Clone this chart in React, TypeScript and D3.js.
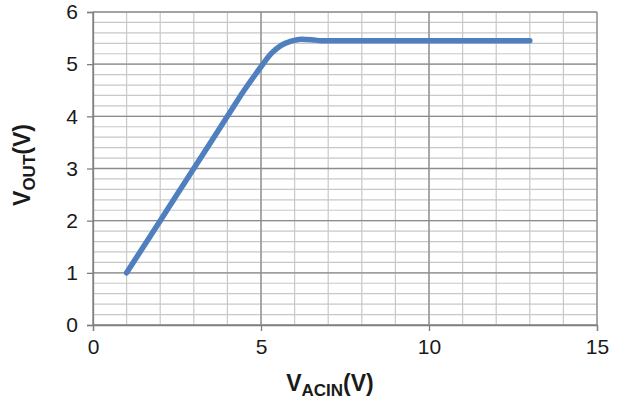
import React, { useEffect, useRef } from 'react';
import * as d3 from 'd3';

// Vacin (V) vs Vout (V)
const vacin = [1, 2, 3, 4, 4.5, 5, 5.3, 5.6, 5.9, 6.2, 6.5, 6.8, 7, 8, 9, 10, 11, 12, 13];
const vout = [1, 2, 3, 4, 4.5, 4.95, 5.2, 5.36, 5.44, 5.48, 5.47, 5.45, 5.45, 5.45, 5.45, 5.45, 5.45, 5.45, 5.45];
const xTicks = [0, 5, 10, 15];
const yTicks = [0, 1, 2, 3, 4, 5, 6];

const W = 617;
const H = 403;

const App = () => {
  const ref = useRef<SVGSVGElement>(null);

  useEffect(() => {
    document.body.style.margin = '0';
    const svg = d3.select(ref.current);
    svg.selectAll('*').remove();

    const x = d3.scaleLinear().domain([0, 15]).range([93, 597]);
    const y = d3.scaleLinear().domain([0, 6]).range([325, 12]);
    const font = '"Liberation Sans", Arial, sans-serif';

    const g = svg.append('g');

    // minor grid
    const minorX = d3.range(0, 15.01, 1);
    const minorY = d3.range(0, 6.01, 0.2);
    g.selectAll('.mx').data(minorX).enter().append('line')
      .attr('x1', d => x(d)).attr('x2', d => x(d))
      .attr('y1', y(0)).attr('y2', y(6))
      .attr('stroke', '#c8c8c8').attr('stroke-width', 1.2);
    g.selectAll('.my').data(minorY).enter().append('line')
      .attr('x1', x(0)).attr('x2', x(15))
      .attr('y1', d => y(d)).attr('y2', d => y(d))
      .attr('stroke', '#c8c8c8').attr('stroke-width', 1.2);

    // major grid
    g.selectAll('.Mx').data(xTicks).enter().append('line')
      .attr('x1', d => x(d)).attr('x2', d => x(d))
      .attr('y1', y(0)).attr('y2', y(6))
      .attr('stroke', '#8c8c8c').attr('stroke-width', 1.3);
    g.selectAll('.My').data(yTicks).enter().append('line')
      .attr('x1', x(0)).attr('x2', x(15))
      .attr('y1', d => y(d)).attr('y2', d => y(d))
      .attr('stroke', '#8c8c8c').attr('stroke-width', 1.3);

    // axes
    const xAxis = svg.append('g')
      .attr('transform', `translate(0,${y(0)})`)
      .call(d3.axisBottom(x).tickValues(xTicks).tickFormat(d3.format('d')).tickSize(6).tickPadding(8));
    const yAxis = svg.append('g')
      .attr('transform', `translate(${x(0)},0)`)
      .call(d3.axisLeft(y).tickValues(yTicks).tickFormat(d3.format('d')).tickSize(6).tickPadding(9));
    [xAxis, yAxis].forEach(a => {
      a.select('.domain').attr('stroke', '#808080').attr('stroke-width', 1.3);
      a.selectAll('.tick line').attr('stroke', '#808080').attr('stroke-width', 1.3);
      a.selectAll('.tick text')
        .attr('fill', '#1a1a1a')
        .style('font-family', font)
        .style('font-size', '21px');
    });

    // curve
    const line = d3.line<number>()
      .x((d, i) => x(vacin[i]))
      .y(d => y(d))
      .curve(d3.curveMonotoneX);
    svg.append('path')
      .datum(vout)
      .attr('d', line)
      .attr('fill', 'none')
      .attr('stroke', '#4f7fbf')
      .attr('stroke-width', 5.5)
      .attr('stroke-linecap', 'round');

    // axis titles
    const xt = svg.append('text')
      .attr('x', 330).attr('y', 391)
      .attr('text-anchor', 'middle')
      .style('font-family', font)
      .style('font-weight', 'bold')
      .style('font-size', '23px')
      .attr('fill', '#1a1a1a');
    xt.append('tspan').text('V');
    xt.append('tspan').attr('dy', 5).style('font-size', '17px').text('ACIN');
    xt.append('tspan').attr('dy', -5).text('(V)');

    const yt = svg.append('text')
      .attr('transform', 'translate(30,165) rotate(-90)')
      .attr('text-anchor', 'middle')
      .style('font-family', font)
      .style('font-weight', 'bold')
      .style('font-size', '23px')
      .attr('fill', '#1a1a1a');
    yt.append('tspan').text('V');
    yt.append('tspan').attr('dy', 5).style('font-size', '17px').text('OUT');
    yt.append('tspan').attr('dy', -5).text('(V)');
  }, []);

  return <svg ref={ref} width={W} height={H} style={{ display: 'block', background: '#fff' }} />;
};

export default App;
